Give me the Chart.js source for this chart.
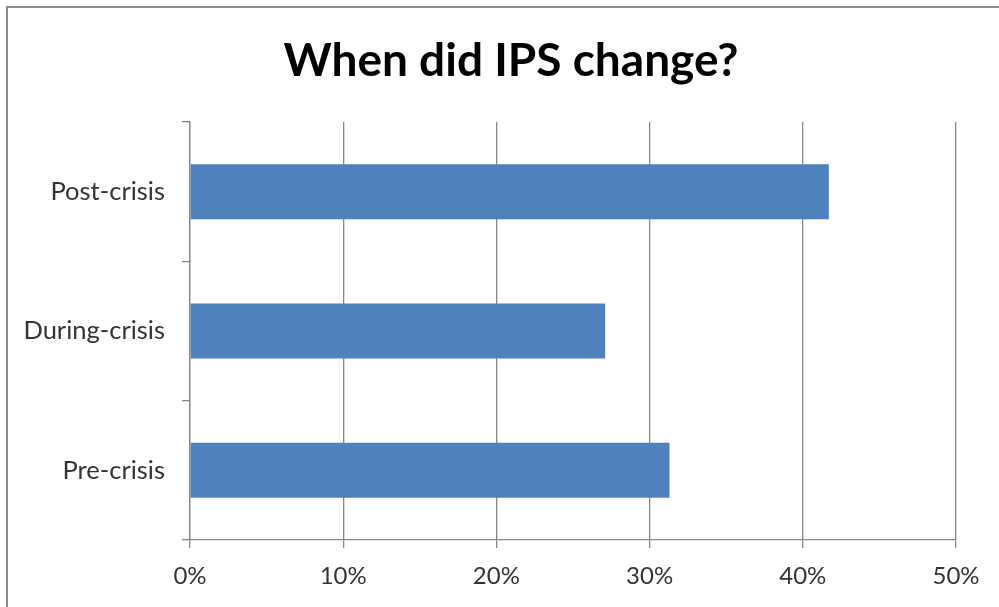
<!DOCTYPE html>
<html>
<head>
<meta charset="utf-8">
<script src="https://cdn.jsdelivr.net/npm/chart.js@4/dist/chart.umd.min.js"></script>
<style>
html,body{margin:0;padding:0;background:#fff;}
#wrap{position:relative;width:999px;height:607px;}
</style>
</head>
<body>
<div id="wrap"><canvas id="c" width="999" height="607"></canvas></div>
<script>
const categories = ["Post-crisis", "During-crisis", "Pre-crisis"];
const values = [41.7, 27.1, 31.3];
const titleText = "When did IPS change?";
const xMin = 0, xMax = 50, xStep = 10;

const frame = {
  id: 'frame',
  beforeDraw(chart) {
    const ctx = chart.ctx;
    ctx.save();
    ctx.fillStyle = '#ffffff';
    ctx.fillRect(0, 0, chart.width, chart.height);
    ctx.strokeStyle = '#8c8c8c';
    ctx.lineWidth = 2;
    ctx.beginPath();
    ctx.moveTo(7, chart.height + 5);
    ctx.lineTo(7, 7);
    ctx.lineTo(chart.width + 5, 7);
    ctx.stroke();
    ctx.restore();
  },
  afterDraw(chart) {
    const ctx = chart.ctx;
    ctx.save();
    ctx.fillStyle = '#000000';
    ctx.font = 'bold 46px Lato';
    ctx.textAlign = 'center';
    ctx.textBaseline = 'middle';
    ctx.fillText(titleText, 511, 61);
    ctx.restore();
  }
};

new Chart(document.getElementById('c'), {
  type: 'bar',
  data: {
    labels: categories,
    datasets: [{
      data: values,
      backgroundColor: '#4F81BD',
      borderWidth: 0,
      categoryPercentage: 1,
      barPercentage: 0.395
    }]
  },
  plugins: [frame],
  options: {
    indexAxis: 'y',
    responsive: false,
    animation: false,
    layout: { padding: { left: 0, right: 43, top: 122, bottom: 0 } },
    plugins: {
      legend: { display: false },
      tooltip: { enabled: false },
      title: { display: false }
    },
    scales: {
      x: {
        min: xMin, max: xMax,
        ticks: {
          stepSize: xStep,
          color: '#333333',
          font: { family: 'Lato', size: 24 },
          padding: 14,
          callback: v => v + '%'
        },
        grid: { color: '#878787', lineWidth: 1.3, tickLength: 8, drawTicks: true },
        border: { color: '#878787', width: 1.3 },
        afterFit(s) { s.height = 67; }
      },
      y: {
        ticks: {
          color: '#333333',
          font: { family: 'Lato', size: 25.5 },
          padding: 17
        },
        grid: { drawOnChartArea: false, color: '#878787', lineWidth: 1.3, tickLength: 8, offset: true },
        border: { color: '#878787', width: 1.3 },
        afterFit(s) { s.width = 190; }
      }
    }
  }
});
</script>
</body>
</html>
